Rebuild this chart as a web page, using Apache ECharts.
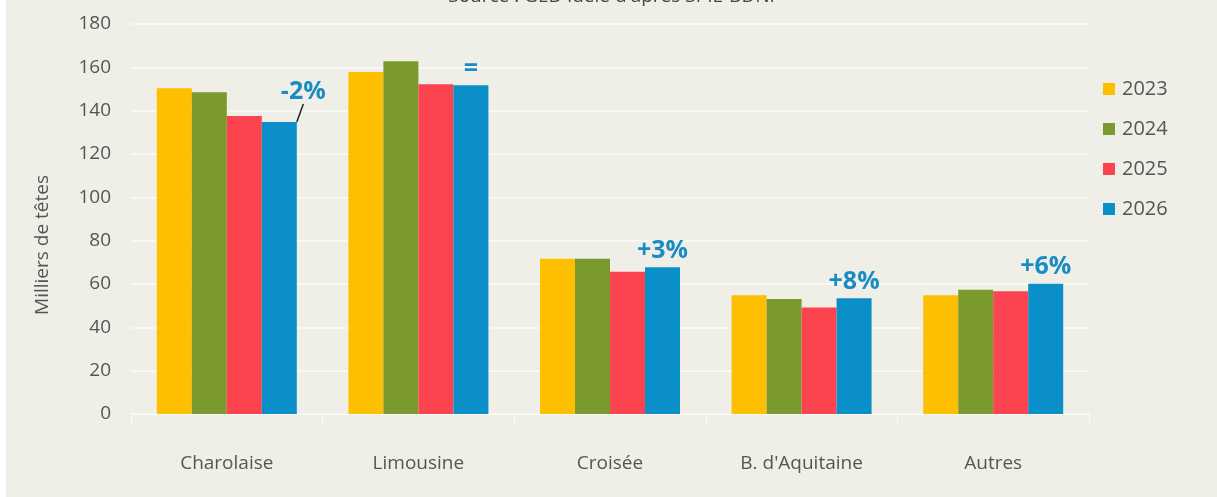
<!DOCTYPE html>
<html>
<head>
<meta charset="utf-8">
<script src="https://cdn.jsdelivr.net/npm/echarts@6/dist/echarts.min.js"></script>
<style>
  html, body { margin: 0; padding: 0; background: #ffffff; }
  #chart { position: absolute; left: 6px; top: 0; width: 1211px; height: 497px; background: #efefe7; }
</style>
</head>
<body>
<div id="chart"></div>
<script>
// categories / races
const categories = ['Charolaise', 'Limousine', 'Croisée', "B. d'Aquitaine", 'Autres']
const years = ['2023', '2024', '2025', '2026']
const yTicks = [0, 20, 40, 60, 80, 100, 120, 140, 160, 180]

// milliers de têtes
const v2023 = [150.3, 157.8, 71.7, 54.8, 54.8]
const v2024 = [148.5, 162.8, 71.7, 53.1, 57.4]
const v2025 = [137.5, 152.2, 65.7, 49.2, 56.6]
const v2026 = [134.8, 151.7, 67.7, 53.4, 60.1]
// évolution 2026 / 2025
const evolution = ['-2%', '=', '+3%', '+8%', '+6%']

const colors = ['#fdbf00', '#7a9a2e', '#fb4450', '#0a8fc8']
const seriesValues = [v2023, v2024, v2025, v2026]

const chart = echarts.init(document.getElementById('chart'))

const series = years.map((y, i) => ({
  name: y,
  type: 'bar',
  barWidth: 35,
  barGap: '0%',
  itemStyle: { color: colors[i] },
  emphasis: { disabled: true },
  data: seriesValues[i]
}))

// étiquettes d'évolution sur 2026
series[3].data = v2026.map((v, i) => ({
  value: v,
  label: {
    show: true,
    position: 'top',
    distance: 4,
    formatter: evolution[i],
    color: '#1a8cc4',
    fontSize: 25,
    fontWeight: 'bold',
    fontFamily: 'Open Sans'
  },
  labelLine: i === 0 ? { show: true, lineStyle: { color: '#222', width: 1.5 } } : { show: false }
}))
series[3].labelLayout = function (p) {
  if (p.dataIndex === 0) return { dx: 24, dy: -14 }
  return {}
}

chart.setOption({
  backgroundColor: '#efefe7',
  animation: false,
  title: {
    text: "Source : GEB-Idele d'après SPIE-BDNI",
    left: 'center',
    top: -18,
    textStyle: { fontSize: 19, fontWeight: 'normal', color: '#444', fontFamily: 'Open Sans' }
  },
  legend: {
    orient: 'vertical',
    left: 1092,
    top: 74,
    itemWidth: 12,
    itemHeight: 12,
    itemGap: 20,
    icon: 'rect',
    data: years,
    textStyle: { fontSize: 20, color: '#555', fontFamily: 'Open Sans', padding: [0, 0, 0, 2] }
  },
  grid: { left: 125, right: 128, top: 24, bottom: 83, containLabel: false },
  xAxis: {
    type: 'category',
    data: categories,
    axisLine: { lineStyle: { color: '#fbfbf6', width: 1 } },
    axisTick: { show: true, length: 10, lineStyle: { color: '#fbfbf6' } },
    axisLabel: { margin: 40, fontSize: 19, color: '#555', fontFamily: 'Open Sans' }
  },
  yAxis: {
    type: 'value',
    min: yTicks[0],
    max: yTicks[yTicks.length - 1],
    interval: 20,
    name: 'Milliers de têtes',
    nameLocation: 'middle',
    nameGap: 79,
    nameTextStyle: { fontSize: 19, color: '#555', fontFamily: 'Open Sans', padding: [0, 52, 0, 0] },
    axisLine: { show: false },
    axisTick: { show: false },
    axisLabel: { margin: 20, fontSize: 19, color: '#555', fontFamily: 'Open Sans' },
    splitLine: { lineStyle: { color: '#fbfbf6', width: 1.5 } }
  },
  series: series
})
</script>
</body>
</html>
